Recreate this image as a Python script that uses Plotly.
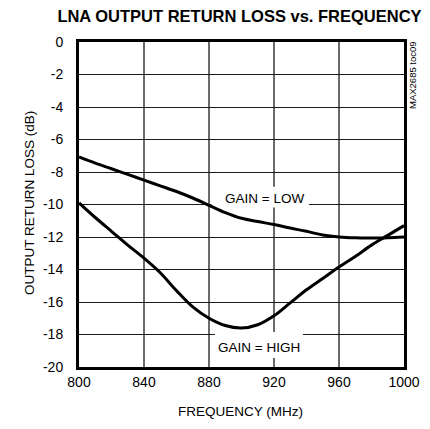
import plotly.graph_objects as go

freq = [800, 810, 820, 830, 840, 850, 860, 870, 880, 890, 900, 910, 920, 930, 940, 950, 960, 970, 980, 990, 1000]
gain_low = [-7.07, -7.45, -7.8, -8.15, -8.5, -8.85, -9.2, -9.6, -10.05, -10.5, -10.85, -11.05, -11.23, -11.45, -11.65, -11.88, -12.0, -12.05, -12.06, -12.04, -12.0]
gain_high = [-9.9, -10.8, -11.65, -12.5, -13.3, -14.2, -15.3, -16.3, -17.0, -17.45, -17.6, -17.4, -16.85, -16.05, -15.25, -14.55, -13.85, -13.2, -12.5, -11.9, -11.3]

x_ticks = [800, 840, 880, 920, 960, 1000]
y_ticks = [0, -2, -4, -6, -8, -10, -12, -14, -16, -18, -20]

FONT = "Liberation Sans, Arial, sans-serif"

# the page body adds an 8px offset; figure is sized/positioned to compensate
FIG_W, FIG_H = 414, 413
L, T, PW, PH = 71, 34, 325, 325

fig = go.Figure()

# white boxes behind the labels (between gridlines and traces)
fig.add_shape(type="rect", x0=881.5, x1=941.5, y0=-10.18, y1=-8.9, layer="between",
              fillcolor="white", line=dict(width=0))
fig.add_shape(type="rect", x0=883.7, x1=937.8, y0=-19.45, y1=-17.85, layer="between",
              fillcolor="white", line=dict(width=0))

fig.add_trace(go.Scatter(x=freq, y=gain_low, mode="lines", line=dict(color="black", width=3, shape="spline"),
                         showlegend=False, hoverinfo="skip"))
fig.add_trace(go.Scatter(x=freq, y=gain_high, mode="lines", line=dict(color="black", width=3, shape="spline"),
                         showlegend=False, hoverinfo="skip"))

fig.add_annotation(x=914, y=-9.63, text="GAIN = LOW", showarrow=False, xref="x", yref="y",
                   xanchor="center", yanchor="middle",
                   font=dict(family=FONT, size=13.5, color="black"))
fig.add_annotation(x=910.5, y=-18.77, text="GAIN = HIGH", showarrow=False, xref="x", yref="y",
                   xanchor="center", yanchor="middle",
                   font=dict(family=FONT, size=13.5, color="black"))
fig.add_annotation(x=(412 - 79) / 325, y=(367 - 75) / 325, xref="paper", yref="paper",
                   text="MAX2685 toc09", showarrow=False, textangle=-90,
                   xanchor="center", yanchor="middle",
                   font=dict(family=FONT, size=9.5, color="black"))
# axis titles
fig.add_annotation(x=(29 - 79) / 325, y=(367 - 203) / 325, xref="paper", yref="paper",
                   text="OUTPUT RETURN LOSS (dB)", showarrow=False, textangle=-90,
                   xanchor="center", yanchor="middle",
                   font=dict(family=FONT, size=13.5, color="black"))
fig.add_annotation(x=(240.5 - 79) / 325, y=(367 - 411) / 325, xref="paper", yref="paper",
                   text="FREQUENCY (MHz)", showarrow=False,
                   xanchor="center", yanchor="middle",
                   font=dict(family=FONT, size=13.5, color="black"))

fig.update_layout(
    width=FIG_W, height=FIG_H,
    margin=dict(l=L, r=FIG_W - L - PW, t=T, b=FIG_H - T - PH, autoexpand=False),
    paper_bgcolor="white", plot_bgcolor="white",
    title=dict(text="<b>LNA OUTPUT RETURN LOSS vs. FREQUENCY</b>", x=231.5 / FIG_W, xanchor="center",
               y=1 - 8.5 / FIG_H, yanchor="middle",
               font=dict(family=FONT, size=16.5, color="black")),
    font=dict(family=FONT, size=14, color="black"),
)

fig.update_xaxes(range=[800, 1000], tickvals=x_ticks, ticktext=[str(v) for v in x_ticks],
                 showgrid=True, gridcolor="#6a6a6a", gridwidth=1.5,
                 showline=True, linecolor="black", linewidth=3, mirror=True,
                 ticks="", zeroline=False, automargin=False,
                 tickfont=dict(family=FONT, size=14))
fig.update_yaxes(range=[-20, 0], tickvals=y_ticks, ticktext=[str(v) for v in y_ticks],
                 showgrid=True, gridcolor="#1a1a1a", gridwidth=1,
                 showline=True, linecolor="black", linewidth=3, mirror=True,
                 ticks="outside", ticklen=10, tickcolor="rgba(0,0,0,0)",
                 zeroline=False, automargin=False,
                 tickfont=dict(family=FONT, size=14))

fig.write_html("out.html")
